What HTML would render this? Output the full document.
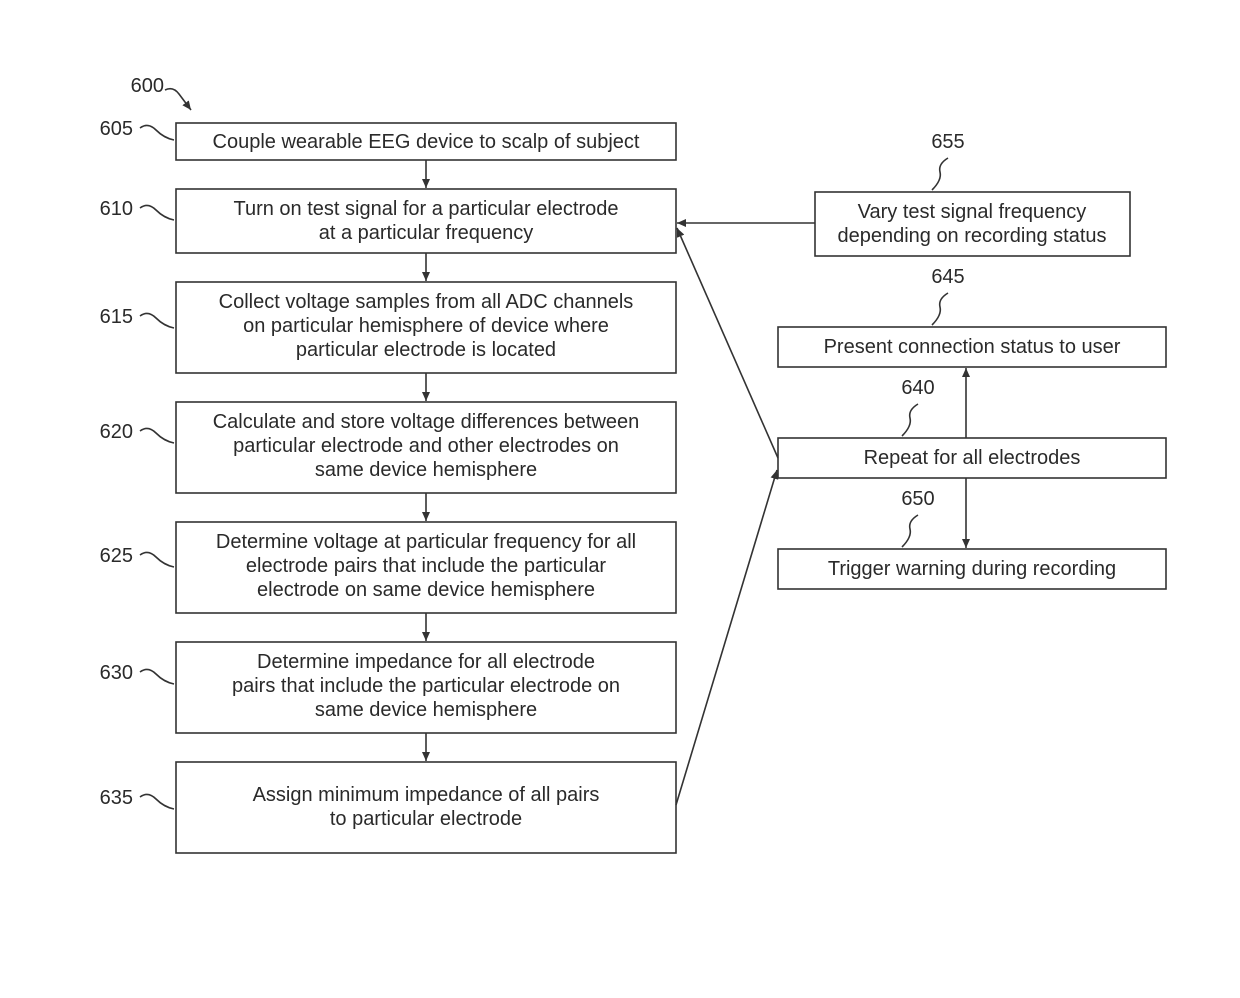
<!DOCTYPE html>
<html><head><meta charset="utf-8"><style>
body{margin:0;background:#fff}
svg text{font-family:"Liberation Sans",sans-serif;font-size:20px;fill:#2a2a2a}
</style></head><body>
<svg width="1240" height="993" viewBox="0 0 1240 993" xmlns="http://www.w3.org/2000/svg">
<defs><marker id="a" markerWidth="10" markerHeight="10" refX="9" refY="5" orient="auto" markerUnits="userSpaceOnUse"><path d="M0,1 L9,5 L0,9 Z" fill="#333"/></marker></defs>
<g fill="none" stroke="#333" stroke-width="1.6">
<rect x="176" y="123" width="500" height="37"/>
<rect x="176" y="189" width="500" height="64"/>
<rect x="176" y="282" width="500" height="91"/>
<rect x="176" y="402" width="500" height="91"/>
<rect x="176" y="522" width="500" height="91"/>
<rect x="176" y="642" width="500" height="91"/>
<rect x="176" y="762" width="500" height="91"/>
<rect x="815" y="192" width="315" height="64"/>
<rect x="778" y="327" width="388" height="40"/>
<rect x="778" y="438" width="388" height="40"/>
<rect x="778" y="549" width="388" height="40"/>
<g marker-end="url(#a)">
<line x1="426" y1="160" x2="426" y2="188"/>
<line x1="426" y1="253" x2="426" y2="281"/>
<line x1="426" y1="373" x2="426" y2="401"/>
<line x1="426" y1="493" x2="426" y2="521"/>
<line x1="426" y1="613" x2="426" y2="641"/>
<line x1="426" y1="733" x2="426" y2="761"/>
<line x1="815" y1="223" x2="677" y2="223"/>
<line x1="778" y1="458" x2="677" y2="228"/>
<line x1="676" y1="805" x2="777" y2="470"/>
<line x1="966" y1="438" x2="966" y2="368"/>
<line x1="966" y1="478" x2="966" y2="548"/>
<path d="M165,90 q8,-4 14,4 t12,16"/>
</g>
<path d="M140,128 q8,-6 16,2 t18,10"/>
<path d="M140,208 q8,-6 16,2 t18,10"/>
<path d="M140,316 q8,-6 16,2 t18,10"/>
<path d="M140,431 q8,-6 16,2 t18,10"/>
<path d="M140,555 q8,-6 16,2 t18,10"/>
<path d="M140,672 q8,-6 16,2 t18,10"/>
<path d="M140,797 q8,-6 16,2 t18,10"/>
<path d="M948,158 q-10,6 -8,14 t-8,18"/>
<path d="M948,293 q-10,6 -8,14 t-8,18"/>
<path d="M918,404 q-10,6 -8,14 t-8,18"/>
<path d="M918,515 q-10,6 -8,14 t-8,18"/>
</g>
<g text-anchor="end">
<text x="164" y="92">600</text>
<text x="133" y="135">605</text>
<text x="133" y="215">610</text>
<text x="133" y="323">615</text>
<text x="133" y="438">620</text>
<text x="133" y="562">625</text>
<text x="133" y="679">630</text>
<text x="133" y="804">635</text>
</g>
<g text-anchor="middle">
<text x="948" y="148">655</text>
<text x="948" y="283">645</text>
<text x="918" y="394">640</text>
<text x="918" y="505">650</text>
<text x="426" y="148">Couple wearable EEG device to scalp of subject</text>
<text x="426" y="215">Turn on test signal for a particular electrode</text>
<text x="426" y="239">at a particular frequency</text>
<text x="426" y="308">Collect voltage samples from all ADC channels</text>
<text x="426" y="332">on particular hemisphere of device where</text>
<text x="426" y="356">particular electrode is located</text>
<text x="426" y="428">Calculate and store voltage differences between</text>
<text x="426" y="452">particular electrode and other electrodes on</text>
<text x="426" y="476">same device hemisphere</text>
<text x="426" y="548">Determine voltage at particular frequency for all</text>
<text x="426" y="572">electrode pairs that include the particular</text>
<text x="426" y="596">electrode on same device hemisphere</text>
<text x="426" y="668">Determine impedance for all electrode</text>
<text x="426" y="692">pairs that include the particular electrode on</text>
<text x="426" y="716">same device hemisphere</text>
<text x="426" y="801">Assign minimum impedance of all pairs</text>
<text x="426" y="825">to particular electrode</text>
<text x="972" y="218">Vary test signal frequency</text>
<text x="972" y="242">depending on recording status</text>
<text x="972" y="353">Present connection status to user</text>
<text x="972" y="464">Repeat for all electrodes</text>
<text x="972" y="575">Trigger warning during recording</text>
</g>
</svg>
</body></html>
